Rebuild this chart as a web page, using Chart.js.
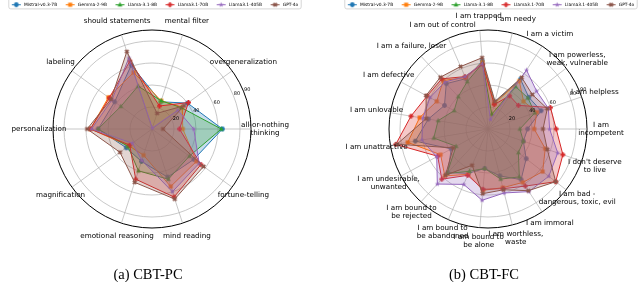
<!DOCTYPE html>
<html lang="en">
<head>
<meta charset="UTF-8">
<title>CBT-PC / CBT-FC radar</title>
<script src="https://cdn.jsdelivr.net/npm/chart.js"></script>
<style>
  body { margin: 0; width: 640px; height: 282px; background: #fff; position: relative; overflow: hidden; }
  .panel { position: absolute; top: 0; }
  .panel canvas { display: block; }
  #left { left: 0; }
  #right { left: 336px; }
  .caption {
    position: absolute; top: 266px; width: 200px; line-height: 16px;
    font-family: "Liberation Serif", serif; font-size: 14.5px; color: #000; text-align: center;
  }
</style>
</head>
<body>
<div class="panel" id="left"><canvas id="pcChart" width="304" height="282"></canvas></div>
<div class="panel" id="right"><canvas id="fcChart" width="304" height="282"></canvas></div>
<div class="caption" style="left:48px">(a) CBT-PC</div>
<div class="caption" style="left:384px">(b) CBT-FC</div>

<script>
// models / styling order
const models = ['Mistral-v0.3-7B', 'Gemma-2-9B', 'Llama-3.1-8B', 'Llama3.1-70B', 'Llama3.1-405B', 'GPT-4o'];
const colors = ['#1f77b4', '#ff7f0e', '#2ca02c', '#d62728', '#9467bd', '#8c564b'];
const markers = ['circle', 'square', 'triangle', 'plus', 'star', 'x'];

// radial axis
const rMax = 90;
const rTicks = [20, 40, 60, 80, 90];

// (a) CBT-PC, counter-clockwise from the right
const pcCategories = [
  ['all-or-nothing', 'thinking'], 'overgeneralization', 'mental filter', 'should statements',
  'labeling', 'personalization', 'magnification', 'emotional reasoning', 'mind reading', 'fortune-telling'
];
const pcMistral  = [64, 40, 26, 61, 42, 49, 29, 31, 46, 47];
const pcGemma    = [28, 34, 27, 54, 49, 56, 26, 25, 55, 50];
const pcLlama8   = [63, 33, 27, 41, 35, 49, 27, 40, 48, 42];
const pcLlama70  = [25, 41, 22, 65, 48, 56, 25, 48, 65, 55];
const pcLlama405 = [38, 29, 1, 68, 45, 55, 22, 30, 60, 53];
const pcGpt4o    = [10, 36, 15, 74, 46, 59, 36, 51, 67, 58];

// (b) CBT-FC, counter-clockwise from the right
const fcCategories = [
  ['I am', 'incompetent'], 'I am helpless', ['I am powerless,', 'weak, vulnerable'], 'I am a victim',
  'I am needy', 'I am trapped', 'I am out of control', 'I am a failure, loser', 'I am defective',
  'I am unlovable', 'I am unattractive', ['I am undesirable,', 'unwanted'], ['I am bound to', 'be rejected'],
  ['I am bound to', 'be abandoned'], ['I am bound to', 'be alone'], ['I am worthless,', 'waste'],
  'I am immoral', ['I am bad -', 'dangerous, toxic, evil'], ["I don't deserve", 'to live']
];
const fcMistral  = [36, 51, 47, 54, 25, 62, 50, 56, 45, 55, 67, 38, 54, 44, 36, 44, 55, 44, 34];
const fcGemma    = [42, 47, 41, 52, 24, 61, 51, 60, 53, 63, 74, 49, 58, 45, 56, 55, 58, 63, 55];
const fcLlama8   = [29, 45, 46, 46, 14, 60, 47, 40, 35, 46, 50, 33, 55, 42, 36, 47, 52, 35, 34];
const fcLlama70  = [62, 60, 35, 36, 23, 59, 52, 62, 63, 71, 85, 52, 62, 46, 55, 56, 62, 78, 72];
const fcLlama405 = [56, 58, 56, 64, 9, 60, 52, 58, 60, 60, 61, 53, 68, 55, 65, 60, 68, 70, 67];
const fcGpt4o    = [50, 57, 51, 56, 26, 65, 62, 64, 64, 57, 84, 36, 57, 36, 59, 57, 67, 78, 57];

// chart.js goes clockwise, the original goes counter-clockwise
const reorder = a => [a[0], ...a.slice(1).reverse()];

function alpha(hex, a) {
  const n = parseInt(hex.slice(1), 16);
  return `rgba(${n >> 16}, ${(n >> 8) & 255}, ${n & 255}, ${a})`;
}

function drawMarker(g, kind, cx, cy, r) {
  g.beginPath();
  if (kind === 'circle') {
    g.arc(cx, cy, r, 0, Math.PI * 2);
  } else if (kind === 'square') {
    g.rect(cx - r * 0.85, cy - r * 0.85, r * 1.7, r * 1.7);
  } else if (kind === 'triangle') {
    g.moveTo(cx, cy - r * 1.1);
    g.lineTo(cx + r, cy + r * 0.7);
    g.lineTo(cx - r, cy + r * 0.7);
  } else if (kind === 'star') {
    for (let k = 0; k < 10; k++) {
      const rr = k % 2 ? r * 0.45 : r * 1.15;
      const a = -Math.PI / 2 + k * Math.PI / 5;
      g.lineTo(cx + rr * Math.cos(a), cy + rr * Math.sin(a));
    }
  } else {
    // plus / x as a filled cross
    const w = r * 0.38;
    const pts = [[-w, -r], [w, -r], [w, -w], [r, -w], [r, w], [w, w], [w, r], [-w, r], [-w, w], [-r, w], [-r, -w], [-w, -w]];
    const rot = kind === 'x' ? Math.PI / 4 : 0;
    pts.forEach(([x, y]) => {
      g.lineTo(cx + x * Math.cos(rot) - y * Math.sin(rot), cy + x * Math.sin(rot) + y * Math.cos(rot));
    });
  }
  g.closePath();
  g.fill();
}

function pointImage(kind, color) {
  const c = document.createElement('canvas');
  c.width = 7; c.height = 7;
  const g = c.getContext('2d');
  g.fillStyle = color;
  drawMarker(g, kind, 3.5, 3.5, 2.4);
  return c;
}

function legendImage(kind, color) {
  const c = document.createElement('canvas');
  c.width = 16; c.height = 7;
  const g = c.getContext('2d');
  g.strokeStyle = color; g.lineWidth = 1;
  g.beginPath(); g.moveTo(6, 3.5); g.lineTo(15, 3.5); g.stroke();
  g.fillStyle = color;
  drawMarker(g, kind, 10.5, 3.5, 2.4);
  return c;
}

const pointImgs = models.map((m, i) => pointImage(markers[i], colors[i]));
const legendImgs = models.map((m, i) => legendImage(markers[i], colors[i]));

// category names outside the circle and r tick labels at 22.5 degrees
const outerText = {
  id: 'outerText',
  afterDatasetsDraw(chart) {
    const s = chart.scales.r, ctx = chart.ctx;
    ctx.save();
    ctx.fillStyle = '#000';
    ctx.textAlign = 'center';
    ctx.textBaseline = 'middle';
    ctx.font = '7.2px "DejaVu Sans"';
    chart.data.labels.forEach((lab, i) => {
      const p = s.getPointPosition(i, s.drawingArea + 14);
      const lines = Array.isArray(lab) ? lab : [lab];
      lines.forEach((t, j) => ctx.fillText(t, p.x, p.y + (j - (lines.length - 1) / 2) * 8));
    });
    ctx.font = '5px "DejaVu Sans"';
    const a = -22.5 * Math.PI / 180;
    rTicks.forEach(v => {
      const d = s.getDistanceFromCenterForValue(v) + 4;
      ctx.fillText(String(v), s.xCenter + d * Math.cos(a), s.yCenter + d * Math.sin(a));
    });
    ctx.restore();
  }
};

// matplotlib-like legend frame
const legendFrame = {
  id: 'legendFrame',
  beforeDraw(chart) {
    const lg = chart.legend;
    if (!lg || !lg.legendHitBoxes.length) return;
    const hb = lg.legendHitBoxes;
    const x0 = hb[0].left + 3, x1 = hb[hb.length - 1].left + hb[hb.length - 1].width + 3;
    const y1 = hb[0].top + hb[0].height + 2;
    const ctx = chart.ctx;
    ctx.save();
    ctx.fillStyle = 'rgba(255,255,255,0.8)';
    ctx.strokeStyle = '#cccccc';
    ctx.lineWidth = 0.8;
    ctx.beginPath();
    ctx.roundRect(x0, -3, x1 - x0, y1 + 3, 2);
    ctx.fill();
    ctx.stroke();
    ctx.restore();
  }
};

function makeRadar(id, categories, series) {
  new Chart(document.getElementById(id), {
    type: 'radar',
    data: {
      labels: reorder(categories),
      datasets: models.map((name, i) => ({
        label: name,
        data: reorder(series[i]),
        borderColor: colors[i],
        backgroundColor: alpha(colors[i], 0.25),
        borderWidth: 1,
        fill: true,
        pointStyle: pointImgs[i],
        pointRadius: 2.4,
        order: models.length - i
      }))
    },
    options: {
      responsive: false,
      animation: false,
      layout: { padding: { top: 0, bottom: 53, left: 0, right: 0 } },
      scales: {
        r: {
          min: 0,
          max: rMax,
          startAngle: 90,
          afterBuildTicks: s => { s.ticks = [0, ...rTicks].map(v => ({ value: v })); },
          ticks: { display: false },
          pointLabels: { display: false },
          grid: {
            circular: true,
            color: c => c.tick && c.tick.value === rMax ? '#000' : '#b0b0b0',
            lineWidth: c => c.tick && c.tick.value === rMax ? 1 : 0.7
          },
          angleLines: { color: '#b0b0b0', lineWidth: 0.7 }
        }
      },
      plugins: {
        tooltip: { enabled: false },
        // empty spacer between the legend and the plot
        subtitle: { display: true, text: '', position: 'top', weight: 500, padding: 0, font: { size: 10.5, lineHeight: 1.2 } },
        legend: {
          position: 'top',
          labels: {
            usePointStyle: true,
            pointStyleWidth: 16,
            padding: 2.5,
            color: '#000',
            font: { family: 'DejaVu Sans', size: 4.4 },
            generateLabels: chart => chart.data.datasets.map((ds, i) => ({
              text: ds.label,
              pointStyle: legendImgs[i],
              fillStyle: ds.borderColor,
              strokeStyle: ds.borderColor,
              lineWidth: 0,
              hidden: false,
              datasetIndex: i,
              fontColor: '#000'
            }))
          }
        }
      }
    },
    plugins: [outerText, legendFrame]
  });
}

makeRadar('pcChart', pcCategories, [pcMistral, pcGemma, pcLlama8, pcLlama70, pcLlama405, pcGpt4o]);
makeRadar('fcChart', fcCategories, [fcMistral, fcGemma, fcLlama8, fcLlama70, fcLlama405, fcGpt4o]);
</script>
</body>
</html>
